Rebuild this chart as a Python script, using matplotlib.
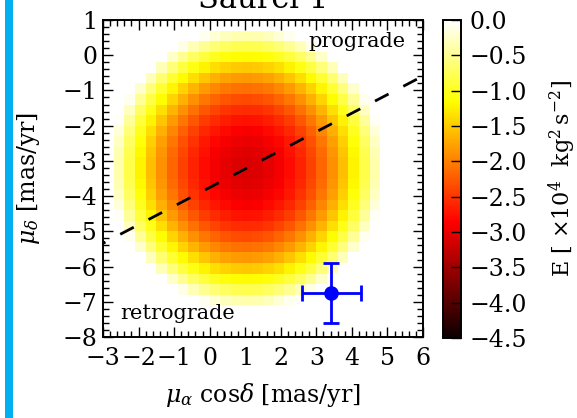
import numpy as np
import matplotlib
matplotlib.use("Agg")
import matplotlib.pyplot as plt
from matplotlib.patches import Rectangle

plt.rcParams["font.family"] = "serif"
plt.rcParams["font.serif"] = ["DejaVu Serif"]
plt.rcParams["mathtext.fontset"] = "dejavuserif"
plt.rcParams["font.size"] = 17

# proper motion grid (mas/yr), 30 x 30 cells
pm_ra_edges = np.linspace(-3.0, 6.0, 31)
pm_dec_edges = np.linspace(-8.0, 1.0, 31)

# orbital energy model (x10^4 kg^2 s^-2)
E_min = -3.1
centre_ra, centre_dec = 1.05, -3.2
scale_ra, scale_dec = 3.85, 4.0

# observed proper motion of Saurel 1
obs_ra = [3.42]
obs_dec = [-6.75]
obs_ra_err = [0.83]
obs_dec_err = [0.85]

# prograde / retrograde dividing line
div_ra = [-3.0, 6.0]
div_dec = [-5.34, -0.59]

ra_c = 0.5 * (pm_ra_edges[1:] + pm_ra_edges[:-1])
dec_c = 0.5 * (pm_dec_edges[1:] + pm_dec_edges[:-1])
RA, DEC = np.meshgrid(ra_c, dec_c)
q = ((RA - centre_ra) / scale_ra) ** 2 + ((DEC - centre_dec) / scale_dec) ** 2
E = np.ma.masked_where(q >= 1, E_min * (1 - q))

fig = plt.figure(figsize=(5.77, 4.18), dpi=100)
fig.patches.append(Rectangle((5 / 577, 0), 7.7 / 577, 1, transform=fig.transFigure,
                             facecolor="#00b0f0", edgecolor="none"))

ax = fig.add_axes([103 / 577, 1 - 337 / 418, 320 / 577, 317 / 418])
cax = fig.add_axes([443 / 577, 1 - 338 / 418, 18 / 577, 318 / 418])

mesh = ax.pcolormesh(pm_ra_edges, pm_dec_edges, E, cmap="hot", vmin=-4.5, vmax=0)

ax.plot(div_ra, div_dec, color="k", lw=2, linestyle=(4.5, (5.5, 6.0)))
ax.errorbar(obs_ra, obs_dec, xerr=obs_ra_err, yerr=obs_dec_err, fmt="o", color="b",
            ms=9.5, elinewidth=2, capsize=6, capthick=2)

ax.text(-2.52, -7.32, "retrograde", ha="left", va="center", fontsize=15)
ax.text(5.5, 0.39, "prograde", ha="right", va="center", fontsize=15)

ax.set_xlim(-3, 6)
ax.set_ylim(-8, 1)
ax.set_xticks(range(-3, 7))
ax.set_yticks(range(-8, 2))
ax.minorticks_on()
ax.tick_params(which="both", direction="in", top=True, right=True)
ax.tick_params(which="major", length=7, width=1)
ax.tick_params(which="minor", length=4, width=1)
ax.tick_params(axis="x", pad=7)
ax.tick_params(axis="y", pad=4)
for s in ax.spines.values():
    s.set_linewidth(1.4)

ax.set_xlabel(r"$\mu_\alpha$ cos$\delta$ [mas/yr]", fontsize=17, labelpad=8)
ax.set_ylabel(r"$\mu_\delta$ [mas/yr]", fontsize=17, labelpad=15)
ax.set_title("Saurel 1", fontsize=22, pad=9)

cb = fig.colorbar(mesh, cax=cax, ticks=np.arange(-4.5, 0.01, 0.5))
cb.ax.tick_params(direction="in", length=7, width=1, pad=6)
cb.outline.set_linewidth(1.4)
cb.set_label(r"E [ $\times10^4$  kg$^2\,$s$^{-2}$]", fontsize=16, labelpad=14)

fig.savefig("out.png", dpi=100)
